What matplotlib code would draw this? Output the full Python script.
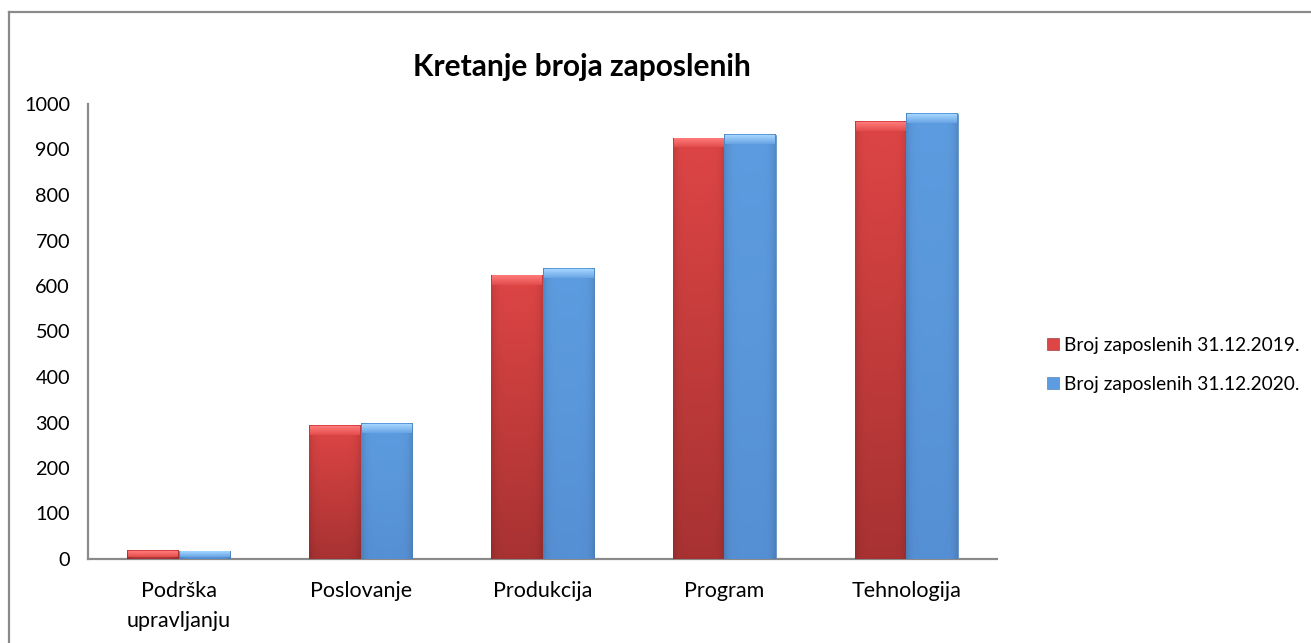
import numpy as np
import matplotlib
matplotlib.use('Agg')
import matplotlib.pyplot as plt
from matplotlib.colors import to_rgb
from matplotlib.lines import Line2D

plt.rcParams.update({'font.family': ['Lato', 'DejaVu Sans'], 'font.size': 14})

categories = ['Podrška\nupravljanju', 'Poslovanje', 'Produkcija', 'Program', 'Tehnologija']
series_names = ['Broj zaposlenih 31.12.2019.', 'Broj zaposlenih 31.12.2020.']
vals_2019 = [18, 293, 623, 925, 961]
vals_2020 = [17, 297, 638, 932, 979]

# top colour, bottom colour, bevel colour
RED = ('#de4545', '#a83232', '#ff7a7a')
BLUE = ('#5d9ce0', '#5690d4', '#a6d6ff')

fig = plt.figure(figsize=(13.11, 6.43), dpi=100)
ax = fig.add_axes([88/1311, 1 - 559/643, (997 - 88)/1311, (559 - 104)/643])

x = np.arange(len(categories))
w = 0.283
px_per_unit = (559 - 104) / 1000.0


def shade_bar(rect, cols):
    x0, y0 = rect.get_x(), rect.get_y()
    bw, bh = rect.get_width(), rect.get_height()
    if bh <= 0:
        return
    top, bot, bev = [np.array(to_rgb(c)) for c in cols]
    ny, nx = 120, 40
    t = np.linspace(0, 1, ny)[:, None, None]
    img = top * (1 - t) + bot * t
    img = np.repeat(img, nx, axis=1)
    # darker edges
    xs = np.linspace(0, 1, nx)
    edge = 1 - 0.12 * (np.abs(xs - 0.5) * 2) ** 6
    img = img * edge[None, :, None]
    ax.imshow(img, extent=[x0, x0 + bw, y0, y0 + bh], aspect='auto',
              origin='upper', zorder=3, clip_path=rect, interpolation='bilinear')
    # top bevel
    bev_h = min(9 / px_per_unit, bh * 0.7)
    b = np.linspace(0, 1, 20)[:, None, None]
    bimg = bev * (1 - b) + (top * 0.85 + bev * 0.15) * b
    bimg = np.repeat(bimg, nx, axis=1)
    ax.imshow(bimg, extent=[x0 + bw * 0.02, x0 + bw * 0.98, y0 + bh - bev_h, y0 + bh],
              aspect='auto', origin='upper', zorder=4, interpolation='bilinear')


bars1 = ax.bar(x - w/2, vals_2019, width=w, color=RED[0], label=series_names[0], zorder=2,
               edgecolor='#8c2a2a', linewidth=0.4)
bars2 = ax.bar(x + w/2, vals_2020, width=w, color=BLUE[0], label=series_names[1], zorder=2,
               edgecolor='#3f74b0', linewidth=0.4)
for r in bars1:
    shade_bar(r, RED)
for r in bars2:
    shade_bar(r, BLUE)

ax.set_xlim(-0.5, len(categories) - 0.5)
ax.set_ylim(0, 1000)
ax.set_yticks(np.arange(0, 1001, 100))
ax.set_xticks(x)
ax.set_xticklabels(categories, linespacing=1.6)
ax.tick_params(axis='y', length=0, pad=13, labelsize=14.3)
ax.tick_params(axis='x', length=0, pad=16, labelsize=15.5)
for s in ['top', 'right']:
    ax.spines[s].set_visible(False)
for s in ['left', 'bottom']:
    ax.spines[s].set_color('#8a8a8a')
    ax.spines[s].set_linewidth(1.6)

fig.text(582/1311, 1 - 67/643, 'Kretanje broja zaposlenih', ha='center', va='center',
         fontsize=21.5, fontweight='bold')

leg = fig.legend(handles=[bars1, bars2], labels=series_names, loc='center left',
                 bbox_to_anchor=(1030/1311, 1 - 365/643), frameon=False,
                 handlelength=0.6, handleheight=0.6, handletextpad=0.3,
                 labelspacing=1.15, fontsize=13.8)

# outer chart border (left and top only visible)
fig.add_artist(Line2D([9/1311, 9/1311], [0, 1 - 12/643], transform=fig.transFigure,
                      color='#8a8a8a', lw=1.6))
fig.add_artist(Line2D([9/1311, 1], [1 - 12/643, 1 - 12/643], transform=fig.transFigure,
                      color='#8a8a8a', lw=1.6))

fig.savefig('out.png', dpi=100)
